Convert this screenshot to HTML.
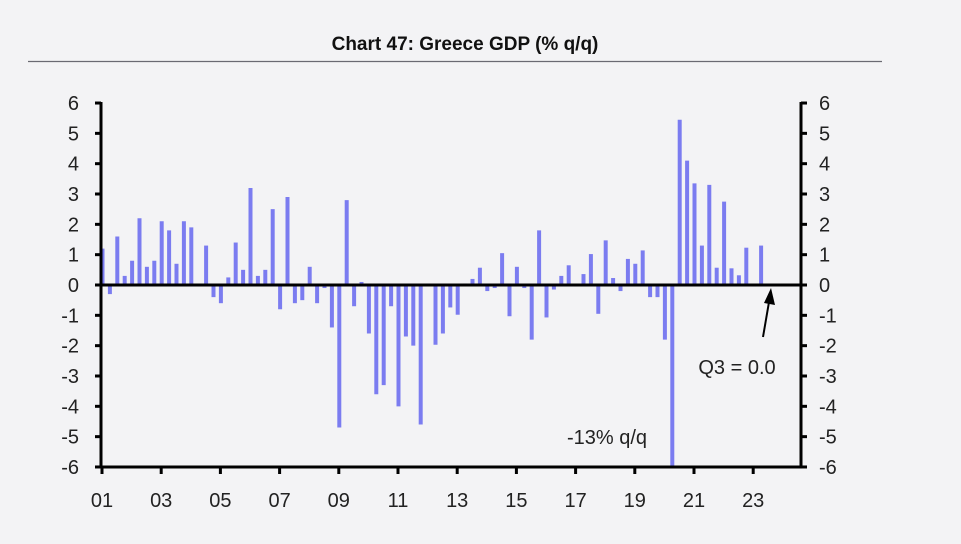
<!DOCTYPE html>
<html><head><meta charset="utf-8"><style>
body{margin:0;background:#f3f3f5;}
svg{display:block;font-family:"Liberation Sans",sans-serif;}
</style></head><body>
<svg width="961" height="544" viewBox="0 0 961 544">
<rect width="961" height="544" fill="#f3f3f5"/>
<text x="465" y="50" text-anchor="middle" font-weight="bold" font-size="19" fill="#111">Chart 47: Greece GDP (% q/q)</text>
<line x1="28" y1="61.5" x2="882" y2="61.5" stroke="#6a6a72" stroke-width="1.2"/>
<g id="bars" stroke="#7b7cf0" stroke-width="4"></g>
<g stroke="#000" stroke-width="3" fill="none">
<line x1="101" y1="102" x2="101" y2="468"/>
<line x1="801" y1="102" x2="801" y2="468"/>
<line x1="100" y1="467" x2="802" y2="467"/>
<line x1="100" y1="285" x2="802" y2="285"/>
</g>
<g id="ticks" stroke="#000" stroke-width="3"></g>
<g id="labels" font-size="20" fill="#222"></g>
<line x1="763" y1="337" x2="769" y2="302" stroke="#000" stroke-width="2"/>
<polygon points="771,288 764,303 775,305" fill="#000"/>
<text x="737" y="374" text-anchor="middle" font-size="20" fill="#222">Q3 = 0.0</text>
<text x="607" y="444" text-anchor="middle" font-size="20" fill="#222">-13% q/q</text>
</svg>
<script>
var v=[1.2,-0.3,1.6,0.3,0.8,2.2,0.6,0.8,2.1,1.8,0.7,2.1,1.9,-0.05,1.3,-0.4,-0.6,0.25,1.4,0.5,3.2,0.3,0.5,2.5,-0.8,2.9,-0.6,-0.5,0.6,-0.6,-0.1,-1.4,-4.7,2.8,-0.7,0.1,-1.6,-3.6,-3.3,-0.7,-4.0,-1.7,-2.0,-4.6,
0.05,-1.97,-1.6,-0.74,-0.98,0.05,0.2,0.57,-0.2,-0.1,1.05,-1.03,0.6,-0.1,-1.8,1.8,-1.07,-0.15,0.3,0.65,-0.05,0.36,1.02,-0.95,1.47,0.23,-0.2,0.86,0.7,1.14,-0.4,-0.4,-1.8,-13,
5.45,4.1,3.35,1.3,3.3,0.57,2.75,0.55,0.32,1.23,-0.05,1.3,0];
var ns="http://www.w3.org/2000/svg",b=document.getElementById("bars");
var Y=function(t){return 285-t*30.33;};
v.forEach(function(t,i){var x=102.5+i*7.4;var y2=Y(Math.max(t,-6));if(Math.abs(t)<0.03)return;
var l=document.createElementNS(ns,"line");l.setAttribute("x1",x);l.setAttribute("x2",x);l.setAttribute("y1",285);l.setAttribute("y2",y2);b.appendChild(l);});
var tk=document.getElementById("ticks"),lb=document.getElementById("labels");
function L(a,b2,c,d){var l=document.createElementNS(ns,"line");l.setAttribute("x1",a);l.setAttribute("y1",b2);l.setAttribute("x2",c);l.setAttribute("y2",d);tk.appendChild(l);}
function T(x,y,s,anc){var t=document.createElementNS(ns,"text");t.setAttribute("x",x);t.setAttribute("y",y);t.setAttribute("text-anchor",anc);t.textContent=s;lb.appendChild(t);}
for(var k=-6;k<=6;k++){var y=Y(k);L(95,y,101,y);L(801,y,807,y);T(79,y+7,String(k),"end");T(819,y+7,String(k),"start");}
for(var yr=1;yr<=23;yr+=2){var x=102+(yr-1)*29.6;L(x,467,x,474);T(x,507,(yr<10?"0":"")+yr,"middle");}
</script>
</body></html>
